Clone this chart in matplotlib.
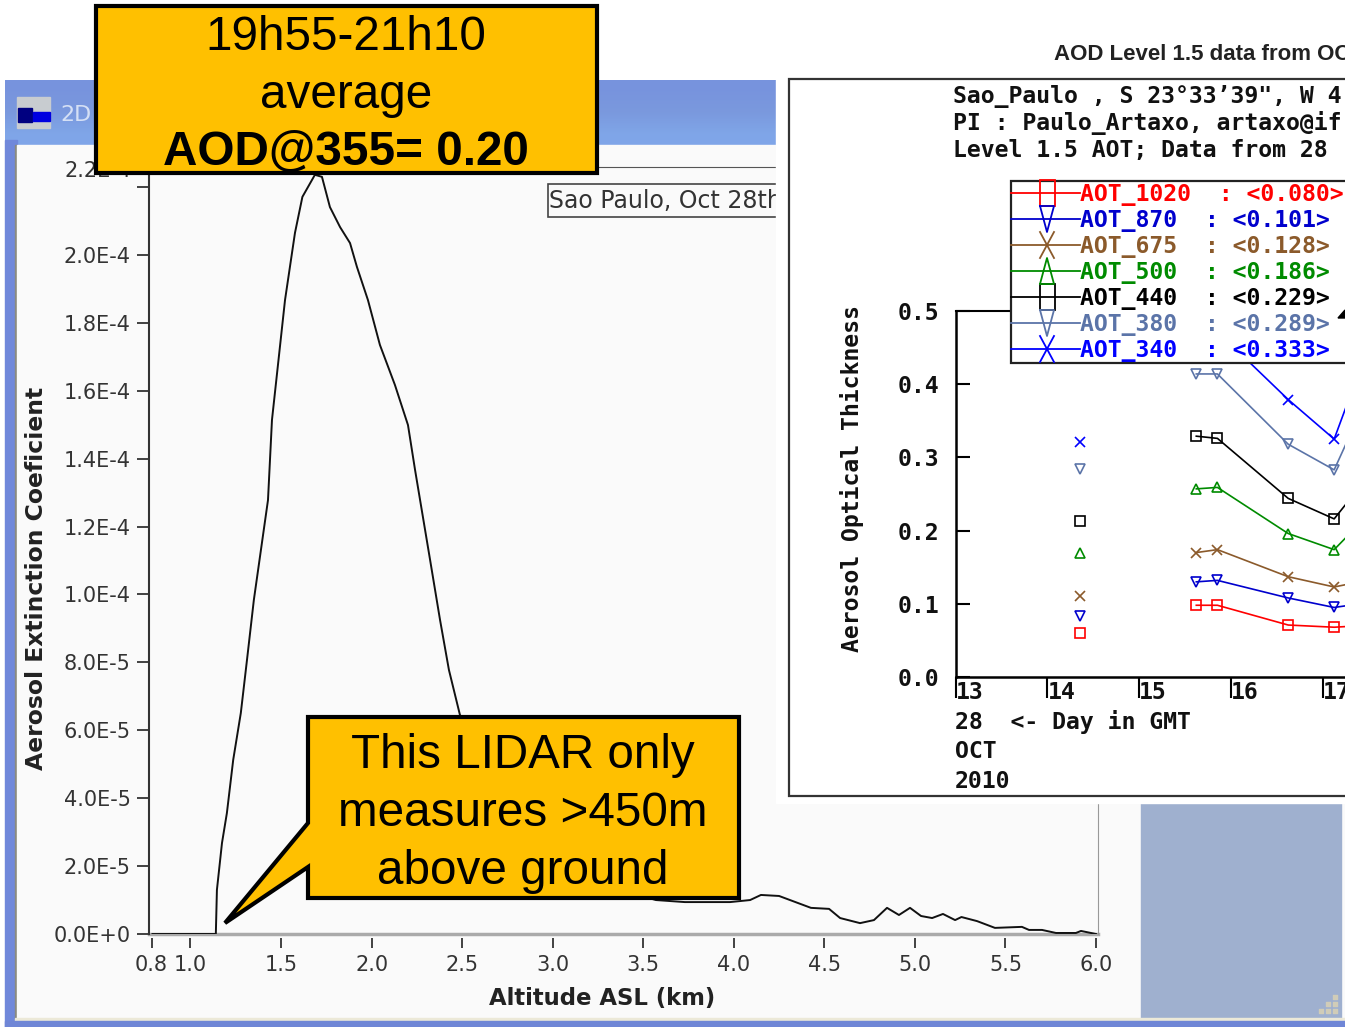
import matplotlib
matplotlib.use('Agg')
import matplotlib.pyplot as plt
from matplotlib.patches import Rectangle, Polygon
import numpy as np

W, H = 1345, 1027

# LIDAR extinction profile
altitude_km = [0.79, 1.14, 1.146, 1.174, 1.201, 1.236, 1.278, 1.312, 1.35, 1.428, 1.45, 1.522, 1.577,
               1.618, 1.687, 1.726, 1.77, 1.826, 1.881, 1.919, 1.98, 2.046, 2.129, 2.201, 2.24, 2.323,
               2.378, 2.427, 2.488, 2.709, 2.93, 3.151, 3.372, 3.57, 3.73, 3.979, 4.09, 4.15, 4.25,
               4.426, 4.526, 4.587, 4.697, 4.774, 4.846, 4.912, 4.973, 5.034, 5.095, 5.155, 5.222,
               5.257, 5.343, 5.442, 5.591, 5.63, 5.702, 5.779, 5.889, 5.917, 6.0]
extinction_e5 = [0.0, 0.0, 1.3, 2.68, 3.56, 5.13, 6.51, 8.07, 9.84, 12.78, 15.14, 18.67, 20.65,
                 21.71, 22.36, 22.3, 21.41, 20.82, 20.35, 19.65, 18.67, 17.35, 16.17, 14.99, 13.67,
                 11.02, 9.25, 7.78, 6.45, 4.83, 3.06, 1.89, 1.3, 1.0, 0.94, 0.94, 1.0, 1.15, 1.12,
                 0.77, 0.74, 0.47, 0.32, 0.41, 0.77, 0.56, 0.77, 0.53, 0.47, 0.59, 0.41,
                 0.5, 0.38, 0.18, 0.21, 0.12, 0.12, 0.03, 0.03, 0.09, 0.0]
alt_ticks = [0.785, 1.0, 1.5, 2.0, 2.5, 3.0, 3.5, 4.0, 4.5, 5.0, 5.5, 6.0]
alt_labels = ['0.8', '1.0', '1.5', '2.0', '2.5', '3.0', '3.5', '4.0', '4.5', '5.0', '5.5', '6.0']
ext_ticks = [0, 2, 4, 6, 8, 10, 12, 14, 16, 18, 20, 22]
ext_labels = ['0.0E+0', '2.0E-5', '4.0E-5', '6.0E-5', '8.0E-5', '1.0E-4', '1.2E-4', '1.4E-4',
              '1.6E-4', '1.8E-4', '2.0E-4', '']

# AERONET AOT, one list per wavelength
hours = [14.35, 15.62, 15.85, 16.62, 17.12, 17.4]
aot_1020 = [0.060, 0.098, 0.098, 0.071, 0.068, 0.07]
aot_870 = [0.084, 0.130, 0.132, 0.108, 0.095, 0.10]
aot_675 = [0.111, 0.170, 0.174, 0.137, 0.123, 0.13]
aot_500 = [0.169, 0.257, 0.259, 0.196, 0.174, 0.21]
aot_440 = [0.213, 0.329, 0.326, 0.244, 0.216, 0.26]
aot_380 = [0.284, 0.414, 0.414, 0.318, 0.283, 0.36]
aot_340 = [0.321, 0.468, 0.472, 0.379, 0.325, 0.42]
aot_names = ['AOT_1020', 'AOT_870', 'AOT_675', 'AOT_500', 'AOT_440', 'AOT_380', 'AOT_340']
aot_means = ['0.080', '0.101', '0.128', '0.186', '0.229', '0.289', '0.333']
aot_series = [aot_1020, aot_870, aot_675, aot_500, aot_440, aot_380, aot_340]
aot_colors = ['#ff0000', '#0000cd', '#8b5a2b', '#008b00', '#000000', '#5b74a8', '#0000ff']
aot_markers = ['s', 'v', 'x', '^', 's', 'v', 'x']
hour_ticks = [13, 14, 15, 16, 17]
aot_ticks = [0.0, 0.1, 0.2, 0.3, 0.4, 0.5]

MONO = 'DejaVu Sans Mono'
UI = 'DejaVu Sans'
ARIAL = 'Liberation Sans'


def px_axes(left, top, right, bottom, zorder):
    return fig.add_axes([left / W, 1 - bottom / H, (right - left) / W, (bottom - top) / H], zorder=zorder)


def px_layer(zorder):
    ax = fig.add_axes([0, 0, 1, 1], zorder=zorder)
    ax.set_xlim(0, W)
    ax.set_ylim(H, 0)
    ax.axis('off')
    ax.patch.set_alpha(0)
    return ax


fig = plt.figure(figsize=(W / 100, H / 100), dpi=100, facecolor='white')

# window behind the LIDAR plot
bg = px_layer(0)
bar = np.array([[[0.47, 0.58, 0.87]], [[0.48, 0.60, 0.87]], [[0.50, 0.65, 0.91]]])
bg.imshow(bar, extent=(5, 776, 145, 80), aspect='auto', interpolation='bilinear')
bg.set_xlim(0, W)
bg.set_ylim(H, 0)
bg.add_patch(Rectangle((5, 140), 12, 887, color='#7088da'))
bg.add_patch(Rectangle((15, 145), 2, 875, color='#8a8a80'))
bg.add_patch(Rectangle((17, 145), 1328, 873, color='#fafafa'))
bg.add_patch(Rectangle((1141, 790), 200, 228, color='#9fb0cf'))
bg.add_patch(Rectangle((15, 1018), 1330, 3, color='#ece9d8'))
bg.add_patch(Rectangle((5, 1021), 1340, 6, color='#6f86d6'))
bg.add_patch(Rectangle((17, 97), 33, 31, color='#c8ccd0'))
bg.add_patch(Rectangle((18, 108), 14, 14, color='#000080'))
bg.add_patch(Rectangle((33, 112), 17, 9, color='#0000e0'))
bg.text(60, 115, '2D', color='#d5e0f5', fontsize=16, family=UI, va='center')
bg.scatter([1335, 1328, 1335, 1321, 1328, 1335], [997, 1004, 1004, 1011, 1011, 1011],
           s=12, marker='s', color='#d0ccb8')
bg.add_patch(Rectangle((548, 184), 240, 33, facecolor='#fafafa', edgecolor='#444444', lw=1.2))

# LIDAR plot
ax = px_axes(149, 167, 1098, 934, 1)
ax.patch.set_alpha(0)
ax.plot(altitude_km, extinction_e5, color='#111111', lw=1.4)
ax.set_xlim(0.771, 6.011)
ax.set_ylim(0, 22.59)
ax.spines['top'].set_color('#555555')
ax.spines['right'].set_color('#999999')
ax.spines['left'].set_position(('outward', 0))
ax.spines['left'].set_color('#333333')
ax.spines['left'].set_linewidth(1.5)
ax.spines['bottom'].set_position(('outward', 3))
ax.spines['bottom'].set_color('none')
ax.axhline(0, color='#aaaaaa', lw=2.5, zorder=0.5, clip_on=False)
ax.set_xticks(alt_ticks)
ax.set_xticklabels(alt_labels)
ax.set_yticks(ext_ticks)
ax.set_yticklabels(ext_labels)
ax.tick_params(axis='x', length=7, width=1.3, color='#333333', labelsize=15, labelcolor='#333333',
               pad=5, labelfontfamily=UI)
ax.tick_params(axis='y', length=9, width=1.3, color='#333333', labelsize=15, labelcolor='#333333',
               pad=4, labelfontfamily=UI)
ax.set_xlabel('Altitude ASL (km)', fontsize=16.4, fontweight='bold', family=UI, color='#222222',
              labelpad=9, x=0.478)
ax.set_ylabel('Aerosol Extinction Coeficient', fontsize=16.9, fontweight='bold', family=UI, color='#222222',
              labelpad=4, y=0.464)
ax.text(64, 171, '2.2E-4', transform=bg.transData, fontsize=15, family=UI, color='#333333', va='center')
ax.text(549, 201, 'Sao Paulo, Oct 28th', transform=bg.transData, fontsize=17, family=UI,
        color='#333333', va='center', clip_on=False)

# white panel of the AERONET plot
mid = px_layer(2)
mid.add_patch(Rectangle((776, 0), W - 776, 803, color='white'))
mid.add_patch(Rectangle((789, 79), 700, 717, facecolor='white', edgecolor='#333333', lw=1.6))
mid.text(1054, 55, 'AOD Level 1.5 data from OC', fontsize=16, family=ARIAL, fontweight='bold',
         color='#222222', va='center')
for text, y in zip(['Sao_Paulo , S 23°33’39", W 4', 'PI : Paulo_Artaxo, artaxo@if', 'Level 1.5 AOT; Data from 28'],
                   [96, 123, 150]):
    mid.text(953, y, text, fontsize=16.7, family=MONO, fontweight='bold', color='#111111', va='center')
mid.text(852, 479, 'Aerosol Optical Thickness', fontsize=16.7, family=MONO, fontweight='bold',
         color='#111111', rotation=90, va='center', ha='center')
for text, y in zip(['28  <- Day in GMT', 'OCT', '2010'], [722, 752, 782]):
    mid.text(955, y, text, fontsize=16.7, family=MONO, fontweight='bold', color='#111111', va='center')

# AERONET plot
inset = px_axes(955.5, 311, 1345, 677, 3)
inset.patch.set_alpha(0)
for vals, color, marker in zip(aot_series, aot_colors, aot_markers):
    inset.plot(hours[:1], vals[:1], linestyle='none', marker=marker, mfc='none', mec=color, ms=7, mew=1.2)
    inset.plot(hours[1:], vals[1:], color=color, lw=1.2, marker=marker, mfc='none', mec=color, ms=7, mew=1.2)
inset.set_xlim(13, 17.238)
inset.set_ylim(0, 0.5)
inset.spines['top'].set_linewidth(1.5)
inset.spines['left'].set_linewidth(1.8)
inset.spines['bottom'].set_linewidth(1.8)
inset.spines['right'].set_visible(False)
inset.set_xticks(hour_ticks)
inset.set_yticks(aot_ticks)
inset.set_yticklabels(['%.1f' % v for v in aot_ticks], fontsize=16.7, family=MONO, fontweight='bold', color='#111111')
inset.set_xticklabels([str(v) for v in hour_ticks], fontsize=16.7, family=MONO, fontweight='bold',
                      color='#111111', ha='left')
inset.tick_params(axis='y', direction='in', length=10, width=1.5, pad=12)
inset.tick_params(axis='x', direction='out', length=15, width=1.5, pad=-12)

# legend box and callouts on top
top = px_layer(4)
top.add_patch(Rectangle((1011, 181), 400, 182, facecolor='white', edgecolor='#222222', lw=1.6))
row_y = [193, 219, 245, 271, 297, 323, 349]
for name, mean, color, marker, y in zip(aot_names, aot_means, aot_colors, aot_markers, row_y):
    top.plot([1011, 1080], [y, y], color=color, lw=1.3)
    if marker == 's':
        top.add_patch(Rectangle((1039.5, y - 13), 15, 26, fill=False, edgecolor=color, lw=1.3))
    elif marker == 'v':
        top.plot([1040, 1054, 1047, 1040], [y - 13, y - 13, y + 13, y - 13], color=color, lw=1.3)
    elif marker == '^':
        top.plot([1040, 1054, 1047, 1040], [y + 13, y + 13, y - 13, y + 13], color=color, lw=1.3)
    else:
        top.plot([1040, 1054], [y - 13, y + 13], color=color, lw=1.3)
        top.plot([1040, 1054], [y + 13, y - 13], color=color, lw=1.3)
    top.text(1080, y + 2, '%s  : <%s>' % (name, mean), fontsize=16.7, family=MONO, fontweight='bold',
             color=color, va='center')
top.add_patch(Polygon([(1338, 318), (1345, 310), (1345, 318)], color='black'))

top.add_patch(Rectangle((96, 6), 501, 167, facecolor='#ffc000', edgecolor='black', lw=3, joinstyle='miter'))
top.text(346, 38, '19h55-21h10', fontsize=34.3, family=ARIAL, ha='center', va='center', color='black')
top.text(346, 96, 'average', fontsize=34.3, family=ARIAL, ha='center', va='center', color='black')
top.text(346, 153, 'AOD@355= 0.20', fontsize=34.3, family=ARIAL, fontweight='bold', ha='center', va='center', color='black')

top.add_patch(Polygon([(308, 717), (739, 717), (739, 898), (308, 898), (308, 867), (225, 923), (308, 823)],
                      closed=True, facecolor='#ffc000', edgecolor='black', lw=3, joinstyle='miter'))
top.text(523, 756, 'This LIDAR only', fontsize=34.3, family=ARIAL, ha='center', va='center', color='black')
top.text(523, 814, 'measures >450m', fontsize=34.3, family=ARIAL, ha='center', va='center', color='black')
top.text(523, 871, 'above ground', fontsize=34.3, family=ARIAL, ha='center', va='center', color='black')

plt.savefig('out.png', dpi=100)
